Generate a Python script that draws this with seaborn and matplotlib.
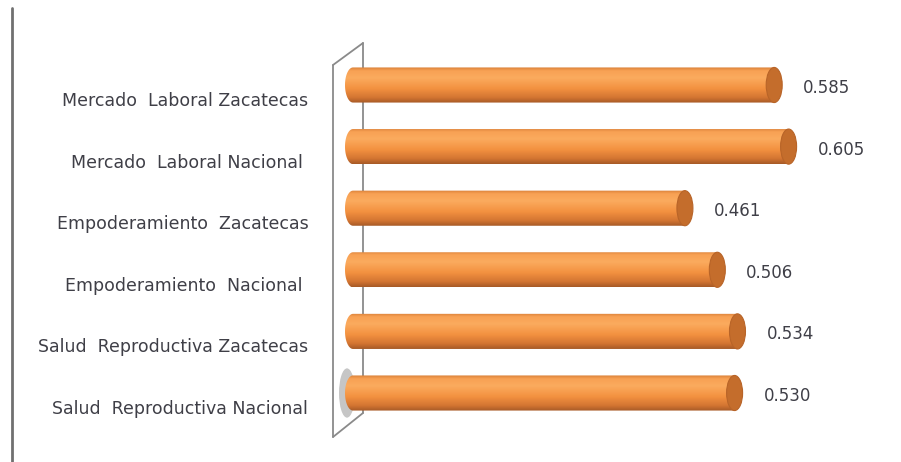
import numpy as np
import pandas as pd
import matplotlib
matplotlib.use('Agg')
import matplotlib.pyplot as plt
import seaborn as sns
from matplotlib.colors import LinearSegmentedColormap
from matplotlib.patches import Ellipse, PathPatch
from matplotlib.path import Path
from matplotlib.transforms import ScaledTranslation

# ── DATA ────────────────────────────────────────────────────────────────────
categories = [
    'Mercado  Laboral Zacatecas',
    'Mercado  Laboral Nacional ',
    'Empoderamiento  Zacatecas',
    'Empoderamiento  Nacional ',
    'Salud  Reproductiva Zacatecas',
    'Salud  Reproductiva Nacional',
]
values = [0.585, 0.605, 0.461, 0.506, 0.534, 0.530]
value_labels = ['0.585', '0.605', '0.461', '0.506', '0.534', '0.530']

df = pd.DataFrame({'cat': categories, 'val': values})

# ── STYLE ───────────────────────────────────────────────────────────────────
sns.set_theme(style='white')
plt.rcParams['font.family'] = ['DejaVu Sans']
TEXT = '#3f3f47'
WALL = '#8a8a8a'
cyl = LinearSegmentedColormap.from_list('cyl', [
    (0.00, '#d98038'), (0.10, '#f8a154'), (0.30, '#fbab5e'),
    (0.60, '#f39140'), (0.85, '#d37532'), (1.00, '#a65a26')])

W, H = 901, 462
fig = plt.figure(figsize=(W / 100, H / 100), dpi=100)
fig.patch.set_facecolor('white')

# value 0 sits at x=353px, 720 px per unit; bar centres 85..393 px from top
x0_px, px_per_unit = 353, 720
margin_px = 28
top_px, step_px = 85 - 30.8, 61.6
ax_left = x0_px - margin_px
ax_w = W - 10 - ax_left
ax = fig.add_axes([ax_left / W, 1 - (top_px + 6 * step_px) / H, ax_w / W, 6 * step_px / H])
ax.set_facecolor('none')

bar_h = 0.57
sns.barplot(data=df, x='val', y='cat', orient='h', color='#f59242',
            width=bar_h, ax=ax, saturation=1, zorder=3)

xmin = -margin_px / px_per_unit
xmax = (ax_w - margin_px) / px_per_unit
cap = 8 / px_per_unit  # half width of the elliptical ends
grad = np.linspace(0, 1, 200).reshape(-1, 1)

for i, p in enumerate(ax.patches):
    x, y, w, h = p.get_x(), p.get_y(), p.get_width(), p.get_height()
    yc = y + h / 2
    p.set_visible(False)
    # body with rounded left end
    t = np.linspace(np.pi / 2, 3 * np.pi / 2, 40)
    verts = list(zip(x + cap * np.cos(t), yc - (h / 2) * np.sin(t)))
    verts += [(x + w, yc + h / 2), (x + w, yc - h / 2), verts[0]]
    body = PathPatch(Path(verts, closed=True), transform=ax.transData,
                     facecolor='none', edgecolor='none')
    ax.add_patch(body)
    im = ax.imshow(grad, cmap=cyl, aspect='auto', origin='upper',
                   extent=(x - cap, x + w, yc + h / 2, yc - h / 2), zorder=3)
    im.set_clip_path(body)
    # right end cap
    ax.add_patch(Ellipse((x + w, yc), 2 * cap, h, facecolor='#c46d2c',
                         edgecolor='#b86428', lw=0.8, zorder=4))
    ax.text(x + w + 29 / px_per_unit, yc + 0.05, value_labels[i],
            ha='left', va='center', fontsize=12, color=TEXT, zorder=5)

# shadow at the foot of the wall
ax.add_patch(Ellipse((-6 / px_per_unit, 5.0), 16 / px_per_unit, 0.8,
                     facecolor='#a0a0a0', edgecolor='none', alpha=0.6, zorder=1))

ax.set_xlim(xmin, xmax)
ax.set_ylim(5.5, -0.5)
ax.set_xlabel('')
ax.set_ylabel('')
ax.set_xticks([])
sns.despine(ax=ax, left=True, bottom=True)
ax.tick_params(axis='y', length=0, pad=12, labelsize=12.5, labelcolor=TEXT)
for lab in ax.get_yticklabels():
    lab.set_transform(lab.get_transform() + ScaledTranslation(0, -0.14, fig.dpi_scale_trans))

# back wall (parallelogram) and left border line, in figure pixels
def px(xs, ys):
    return [v / W for v in xs], [1 - v / H for v in ys]

for xs, ys in [([333, 333], [65, 437]), ([363, 363], [43, 413]),
               ([333, 363], [65, 43]), ([333, 363], [437, 413])]:
    fx, fy = px(xs, ys)
    ax.plot(fx, fy, color=WALL, lw=1.3, transform=fig.transFigure,
            clip_on=False, zorder=0.5)
fx, fy = px([12, 12], [8, 462])
ax.plot(fx, fy, color='#707070', lw=2, transform=fig.transFigure, clip_on=False)

fig.savefig('out.png', dpi=100, facecolor='white')
